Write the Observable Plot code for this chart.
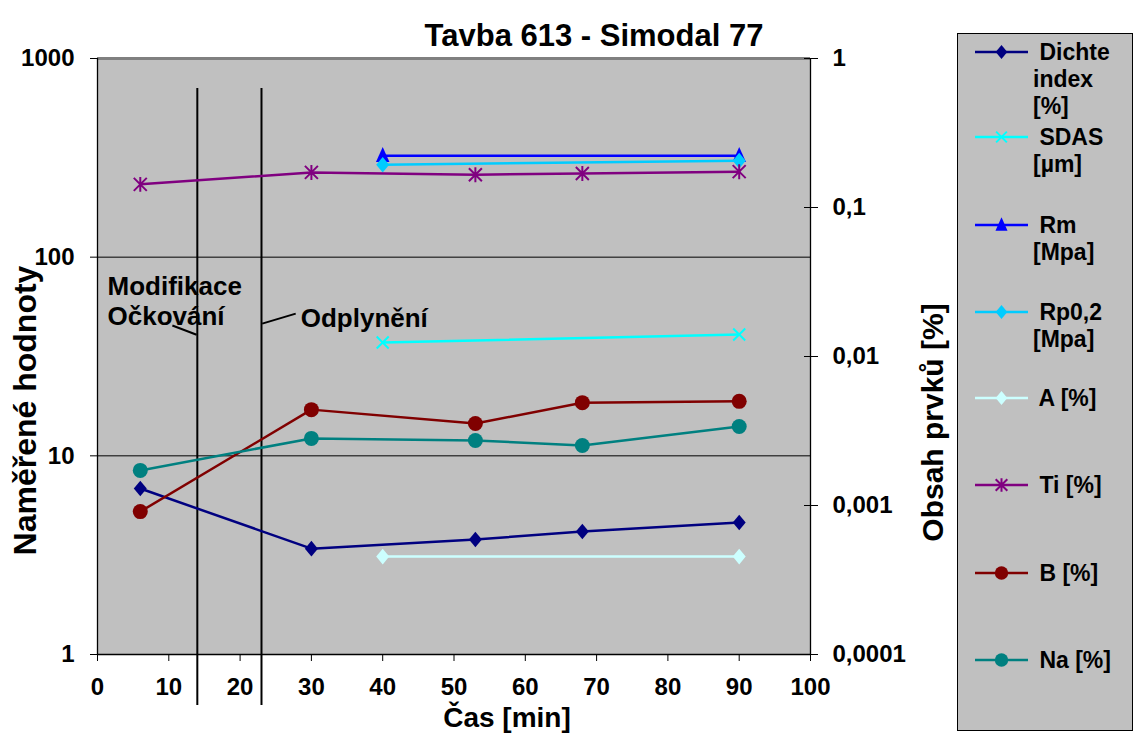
<!DOCTYPE html>
<html><head><meta charset="utf-8">
<script src="https://cdn.jsdelivr.net/npm/d3@7"></script>
<script src="https://cdn.jsdelivr.net/npm/@observablehq/plot@0.6"></script>
<style>
body{margin:0;background:#fff;font-family:"Liberation Sans",Arial,sans-serif;}
#wrap{position:relative;width:1134px;height:742px;}
#wrap svg{position:absolute;left:0;top:0;}
</style></head><body><div id="wrap"></div>
<script>
// ---- data ----
const timeMain = [6, 30, 53, 68, 90];
const timeMech = [40, 90];
const dichteIndex = [6.85, 3.41, 3.79, 4.16, 4.62];
const sdas = [37.2, 40.8];
const rm = [324, 324];
const rp02 = [292, 306];
const tazivostA = [3.11, 3.11];
const ti = [0.143, 0.172, 0.166, 0.169, 0.174];
const bor = [0.00091, 0.0044, 0.00355, 0.0049, 0.005];
const sodik = [0.00172, 0.00282, 0.00273, 0.00253, 0.00339];
const xTicks = [0, 10, 20, 30, 40, 50, 60, 70, 80, 90, 100];
const leftTicks = [1, 10, 100, 1000];
const rightTicks = [0.0001, 0.001, 0.01, 0.1, 1];
const rightTickLabels = ["0,0001", "0,001", "0,01", "0,1", "1"];
const eventTimes = [14, 23];
const annotations = [
  {text: "Modifikace", x: 1.4, y: 71},
  {text: "Očkování", x: 1.4, y: 50},
  {text: "Odplynění", x: 28.5, y: 49}
];
const leaders = [
  {x1: 10.5, y1: 45.3, x2: 13.9, y2: 40.7},
  {x1: 23.1, y1: 46.3, x2: 27.8, y2: 52}
];

// right axis (0.0001..1, 4 decades) shares the frame with left axis (1..1000, 3 decades)
const toLeft = v => 10 ** ((Math.log10(v) - Math.log10(rightTicks[0])) * 3 / 4);

// ---- symbols (Excel-like markers) ----
const symDiamond = {draw(c, s){const r=Math.sqrt(s/Math.PI); c.moveTo(0,-r*1.2); c.lineTo(r,0); c.lineTo(0,r*1.2); c.lineTo(-r,0); c.closePath();}};
const symTriangle = {draw(c, s){const r=Math.sqrt(s/Math.PI); c.moveTo(0,-r*1.15); c.lineTo(r*0.9,r*0.85); c.lineTo(-r*0.9,r*0.85); c.closePath();}};
const symTimes = {draw(c, s){const r=Math.sqrt(s/Math.PI); c.moveTo(-r,-r); c.lineTo(r,r); c.moveTo(-r,r); c.lineTo(r,-r);}};
const symStar = {draw(c, s){const r=Math.sqrt(s/Math.PI); c.moveTo(-r,-r); c.lineTo(r,r); c.moveTo(-r,r); c.lineTo(r,-r); c.moveTo(0,-r*1.15); c.lineTo(0,r*1.15);}};
const symCircle = {draw(c, s){const r=Math.sqrt(s/Math.PI); c.moveTo(r,0); c.arc(0,0,r,0,2*Math.PI);}};

const series = [
  {lines: [" Dichte", "index", "[%]"], x: timeMain, y: dichteIndex, right: false, color: "#000080", symbol: symDiamond, r: 6.5, filled: true, ly: 52},
  {lines: [" SDAS", "[µm]"], x: timeMech, y: sdas, right: false, color: "#00FFFF", symbol: symTimes, r: 6, filled: false, ly: 137},
  {lines: [" Rm", "[Mpa]"], x: timeMech, y: rm, right: false, color: "#0000FF", symbol: symTriangle, r: 7.5, filled: true, ly: 225},
  {lines: [" Rp0,2", "[Mpa]"], x: timeMech, y: rp02, right: false, color: "#00CCFF", symbol: symDiamond, r: 6.5, filled: true, ly: 312},
  {lines: [" A [%]"], x: timeMech, y: tazivostA, right: false, color: "#CCFFFF", symbol: symDiamond, r: 6.5, filled: true, ly: 398},
  {lines: [" Ti [%]"], x: timeMain, y: ti, right: true, color: "#800080", symbol: symStar, r: 6.5, filled: false, ly: 485},
  {lines: [" B [%]"], x: timeMain, y: bor, right: true, color: "#800000", symbol: symCircle, r: 7.5, filled: true, ly: 573},
  {lines: [" Na [%]"], x: timeMain, y: sodik, right: true, color: "#008080", symbol: symCircle, r: 7.5, filled: true, ly: 660}
];

const font = "'Liberation Sans', Arial, sans-serif";
const marks = [
  Plot.frame({fill: "#c0c0c0", stroke: null}),
  Plot.ruleY([10, 100], {stroke: "#000", strokeWidth: 1}),
  Plot.ruleY([1000], {stroke: "#808080", strokeWidth: 3}),
  Plot.ruleX([0, 100], {stroke: "#000", strokeWidth: 1.3}),
  Plot.ruleY([1], {stroke: "#000", strokeWidth: 1.3}),
  Plot.axisX(xTicks, {tickSize: 7, tickPadding: 16, fontSize: 24, fontWeight: "bold", label: null, tickFormat: d => String(d)}),
  Plot.axisY(leftTicks, {anchor: "left", tickSize: 7, tickPadding: 16, fontSize: 24, fontWeight: "bold", label: null, tickFormat: d => String(d)}),
  Plot.axisY(rightTicks.map(toLeft), {anchor: "right", tickSize: 7, tickPadding: 15, fontSize: 24, fontWeight: "bold", label: null,
    tickFormat: d => rightTickLabels[rightTicks.findIndex(v => Math.abs(toLeft(v) - d) < 1e-6)]}),
  Plot.axisY(rightTicks.map(toLeft), {anchor: "right", tickSize: 7, dx: -7, label: null, tickFormat: () => ""}),
  Plot.ruleX(eventTimes, {y1: 706, y2: 0.554, stroke: "#000", strokeWidth: 2}),
  Plot.link(leaders, {x1: "x1", y1: "y1", x2: "x2", y2: "y2", stroke: "#000", strokeWidth: 2}),
  Plot.text(annotations, {x: "x", y: "y", text: "text", textAnchor: "start", fontSize: 26, fontWeight: "bold", fill: "#000"}),
];
for (const s of series) {
  const rows = s.x.map((t, i) => ({t, v: s.right ? toLeft(s.y[i]) : s.y[i]}));
  marks.push(Plot.line(rows, {x: "t", y: "v", stroke: s.color, strokeWidth: 2.5}));
  marks.push(Plot.dot(rows, {x: "t", y: "v", symbol: s.symbol, r: s.r,
    fill: s.filled ? s.color : "none", stroke: s.filled ? null : s.color, strokeWidth: 2}));
}
marks.push(
  Plot.text(["Tavba 613 - Simodal 77"], {frameAnchor: "top", dx: 140, dy: -35, fontSize: 31, fontWeight: "bold", fill: "#000"}),
  Plot.text(["Čas [min]"], {frameAnchor: "bottom", dx: 53, dy: 72, fontSize: 28, fontWeight: "bold", fill: "#000"}),
  Plot.text(["Naměřené hodnoty"], {frameAnchor: "left", textAnchor: "middle", dx: -72, dy: 54, rotate: -90, fontSize: 32, fontWeight: "bold", fill: "#000"}),
  Plot.text(["Obsah prvků [%]"], {frameAnchor: "right", textAnchor: "middle", dx: 123, dy: 66, rotate: -90, fontSize: 30, fontWeight: "bold", fill: "#000"})
);

const chart = Plot.plot({
  width: 1134, height: 742,
  marginLeft: 97, marginRight: 324, marginTop: 58, marginBottom: 88,
  style: {fontFamily: font, background: "#fff", color: "#000", overflow: "visible"},
  x: {domain: [0, 100]},
  y: {type: "log", domain: [1, 1000]},
  marks
});
document.getElementById("wrap").appendChild(chart);

// ---- legend (box on the right) ----
const lg = d3.select("#wrap").append("svg").attr("width", 1134).attr("height", 742)
  .style("font-family", font).style("pointer-events", "none");
lg.append("rect").attr("x", 957.5).attr("y", 33.5).attr("width", 175).attr("height", 697)
  .attr("fill", "#c0c0c0").attr("stroke", "#000").attr("stroke-width", 1);
for (const s of series) {
  const g = lg.append("g");
  g.append("line").attr("x1", 975).attr("x2", 1028).attr("y1", s.ly).attr("y2", s.ly)
    .attr("stroke", s.color).attr("stroke-width", 2.5);
  g.append("path").attr("transform", `translate(1001.5,${s.ly})`)
    .attr("d", d3.symbol().type(s.symbol).size(Math.PI * s.r * s.r * 0.8)())
    .attr("fill", s.filled ? s.color : "none").attr("stroke", s.filled ? "none" : s.color).attr("stroke-width", 2);
  const t = g.append("text").attr("font-size", 23).attr("font-weight", "bold").attr("fill", "#000")
    .attr("xml:space", "preserve").style("white-space", "pre");
  s.lines.forEach((ln, i) => {
    t.append("tspan").attr("x", 1033).attr("y", s.ly + 8 + i * 27).text(ln);
  });
}
</script></body></html>
